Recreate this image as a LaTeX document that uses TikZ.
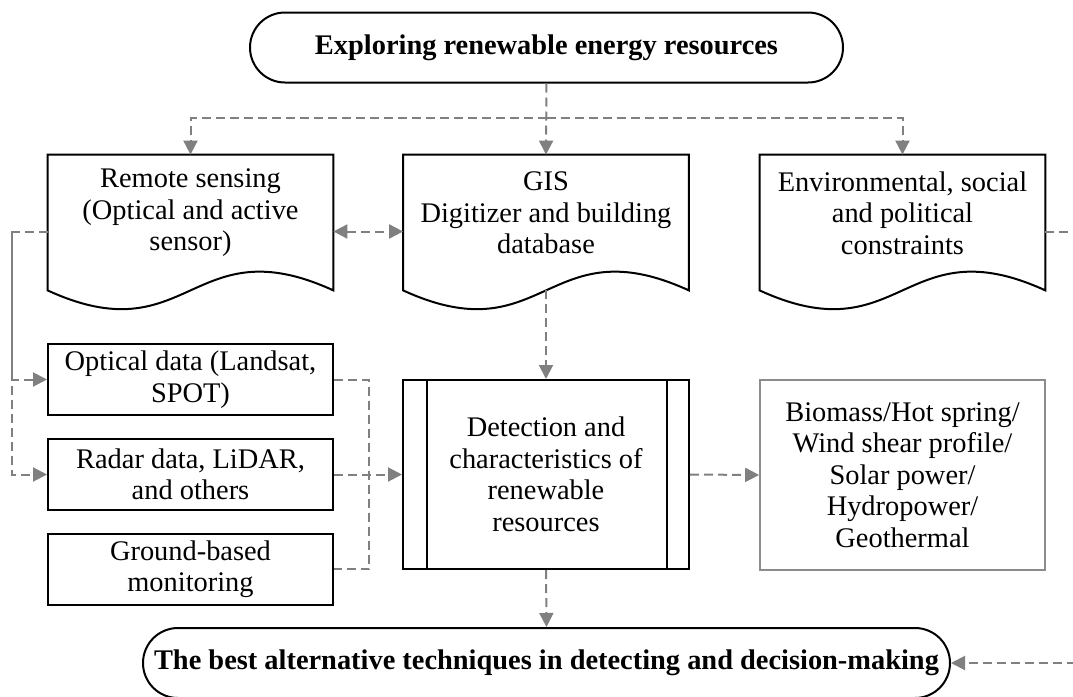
\documentclass[tikz,border=0pt]{standalone}
\usepackage{fontspec}
\setmainfont{Liberation Serif}
\usetikzlibrary{arrows.meta,calc}
\definecolor{linegray}{HTML}{808080}
\definecolor{boxgray}{HTML}{8C8C8C}
\newcommand\docoutline[1]{%
  \draw[line width=1pt, fill=white] (#1.north west) -- (#1.north east)
    -- ($(#1.south east)+(0,-18)$) .. controls +(-142,-65) and +(142,65) .. ($(#1.south west)+(0,-18)$) -- cycle;}
\tikzset{
  conn/.style={draw=linegray, dash pattern=on 4.5pt off 2.5pt, line width=1pt},
  arr/.style={conn, -{Triangle[width=7pt,length=7pt]}},
  biarr/.style={conn, {Triangle[width=7pt,length=7pt]}-{Triangle[width=7pt,length=7pt]}},
  txt/.style={font=\fontsize{14.2}{15.75}\selectfont, align=center, inner sep=0pt},
  docarea/.style={minimum width=142.5pt, minimum height=76.5pt, inner sep=0pt},
  databox/.style={draw, line width=1pt, minimum width=142.5pt, minimum height=35.5pt, inner sep=0pt, font=\fontsize{14.2}{15.75}\selectfont, align=center},
  procbox/.style={draw, line width=1pt, minimum width=143pt, minimum height=94.5pt, inner sep=0pt, font=\fontsize{14.2}{15.75}\selectfont, align=center},
  graybox/.style={draw=boxgray, line width=0.8pt, minimum width=142.5pt, minimum height=95pt, inner sep=0pt, font=\fontsize{14.2}{15.75}\selectfont, align=center},
  stadium/.style={draw, line width=1pt, rounded corners=17.5pt, minimum height=35pt, inner sep=0pt, font=\fontsize{14.2}{15.75}\selectfont\bfseries, fill=white}
}
\begin{document}
\begin{tikzpicture}[x=0.5pt,y=-0.5pt]
\useasboundingbox (0,0) rectangle (1073,697);
% top and bottom terminals
\node[stadium, minimum width=296.5pt] (top) at (546.5,47.5) {Exploring renewable energy resources};
\node[stadium, minimum width=403.5pt] (bot) at (546.5,663) {The best alternative techniques in detecting and decision-making};
% document shapes
\node[docarea] (rs) at (190.5,231.5) {};
\node[docarea] (gis) at (546,231.5) {};
\node[docarea] (env) at (902.5,231.5) {};
\docoutline{rs}
\docoutline{gis}
\docoutline{env}
\node[txt] (rstxt) at (190.5,213) {Remote sensing\\(Optical and active\\sensor)};
\node[txt] (gistxt) at (546,213) {GIS\\Digitizer and building\\database};
\node[txt] (envtxt) at (902.5,213) {Environmental, social\\and political\\constraints};
% data boxes
\node[databox] (opt) at (190.5,379.5) {Optical data (Landsat,\\SPOT)};
\node[databox] (rad) at (190.5,474.5) {Radar data, LiDAR,\\and others};
\node[databox] (gnd) at (190.5,569) {Ground-based\\monitoring};
% process box
\node[procbox] (det) at (546,474.5) {Detection and\\characteristics of\\renewable\\resources};
\draw[line width=1pt] ($(det.north west)+(25,0)$) -- ($(det.south west)+(25,0)$);
\draw[line width=1pt] ($(det.north east)+(-23,0)$) -- ($(det.south east)+(-23,0)$);
% output box
\node[graybox] (bio) at (902.5,475) {Biomass/Hot spring/\\Wind shear profile/\\Solar power/\\Hydropower/\\Geothermal};
% connectors
\coordinate (split) at (546.5,118);
\draw[arr] (top.south) -- (gis.north);
\draw[arr] (split) -| (rs.north);
\draw[arr] (split) -| (env.north);
\draw[biarr] (rs.east) -- (gis.west);
\coordinate (lbus) at (12,231.5);
\draw[arr] (rs.west) -- (lbus) |- (opt.west);
\draw[arr] (lbus) |- (rad.west);
\coordinate (rbus) at (369,379.5);
\draw[conn] (opt.east) -- (rbus) |- (gnd.east);
\draw[arr] (rad.east) -- (det.west);
\draw[arr] ($(gis.south)+(0,-18)$) -- (det.north);
\draw[arr] (det.east) -- (bio.west);
\draw[arr] (det.south) -- (bot.north);
\coordinate (rbus2) at (1090,231.5);
\draw[arr] (env.east) -- (rbus2) |- (bot.east);
\end{tikzpicture}
\end{document}
